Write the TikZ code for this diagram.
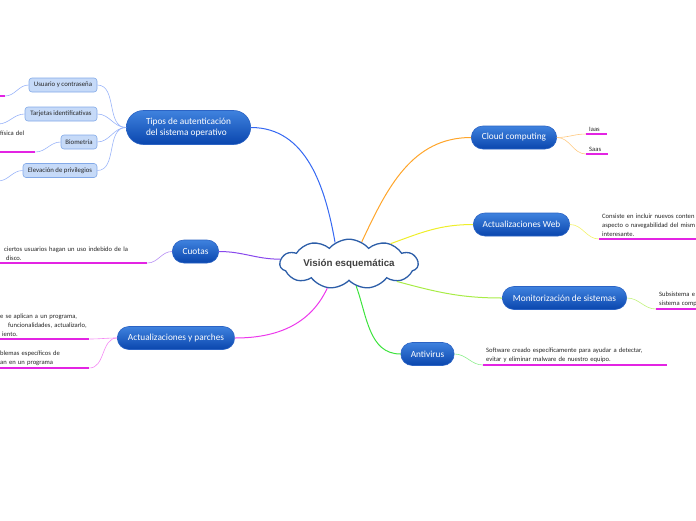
\documentclass[tikz,border=0pt]{standalone}
\usepackage{fontspec}
\setmainfont{Carlito}
\newfontfamily\cloudfont{Liberation Sans}
\usetikzlibrary{shapes,shapes.symbols,shapes.misc}
\definecolor{topic top}{HTML}{3F82DE}
\definecolor{topic bottom}{HTML}{0A46AE}
\definecolor{topic edge}{HTML}{2B63C4}
\definecolor{sub fill}{HTML}{C6DAF8}
\definecolor{sub edge}{HTML}{82A9E8}
\definecolor{cloud edge}{HTML}{2D5EA8}
\definecolor{leaf line}{HTML}{E324E3}
\definecolor{br blue}{HTML}{3568F2}
\definecolor{br orange}{HTML}{FFA52A}
\definecolor{br yellow}{HTML}{EEEE2A}
\definecolor{br purple}{HTML}{8848EC}
\definecolor{br magenta}{HTML}{EC38EC}
\definecolor{br green}{HTML}{3EE33E}
\definecolor{br lime}{HTML}{A8EC46}
\tikzset{topic/.style={rounded rectangle, top color=topic top, bottom color=topic bottom,
        draw=topic edge, line width=0.6pt, text=white, minimum height=23pt,
        font=\fontsize{9.3}{10.8}\selectfont},
    sub/.style={rectangle, rounded corners=3pt, fill=sub fill, draw=sub edge, line width=0.6pt,
        minimum height=14pt, inner xsep=2pt, inner ysep=0pt, text=black!85,
        font=\fontsize{6.8}{7.5}\selectfont},
    leaf/.style={anchor=south west, align=left, inner xsep=3pt, inner ysep=2.5pt,
        text=black!85, font=\fontsize{6.6}{9}\selectfont},
    under/.style={draw=leaf line, line width=1.3pt},
    branch/.style={line width=1pt},
    twig/.style={line width=0.6pt}}

\begin{document}
\begin{tikzpicture}[x=1pt, y=1pt]
    \useasboundingbox (0,0) rectangle (696,-520);
    \clip (0,0) rectangle (696,-520);
    % centre and main topics
    \node[cloud, cloud puffs=11, cloud puff arc=100, aspect=3.8, inner sep=0pt,
          minimum width=138pt, minimum height=36pt, fill=white, draw=cloud edge,
          line width=1.3pt, text=black!75, font=\cloudfont\bfseries\fontsize{9.8}{11}\selectfont]
          (vis) at (349,-264) {Visión esquemática};
    \node[topic, minimum width=131pt, minimum height=34pt, align=left] (tipos) at (188.5,-127.5)
          {Tipos de autenticación\\del sistema operativo};
    \node[topic, minimum width=53pt] (cuotas) at (195.5,-251.5) {Cuotas};
    \node[topic, minimum width=124pt] (parches) at (176,-338) {Actualizaciones y parches};
    \node[topic, minimum width=92pt] (cloud) at (514,-137.5) {Cloud computing};
    \node[topic, minimum width=103pt] (web) at (521.5,-224.5) {Actualizaciones Web};
    \node[topic, minimum width=131pt] (monitor) at (564.5,-298) {Monitorización de sistemas};
    \node[topic, minimum width=60pt] (antivirus) at (427.5,-354) {Antivirus};
    % subtopics of tipos
    \node[sub, minimum width=68pt] (usuario) at (63,-85) {Usuario y contraseña};
    \node[sub, minimum width=72pt] (tarjetas) at (61,-114) {Tarjetas identificativas};
    \node[sub, minimum width=36pt] (biometria) at (79,-142) {Biometría};
    \node[sub, minimum width=74pt] (elevacion) at (60,-170.5) {Elevación de privilegios};
    % leaves
    \coordinate (ua) at (-3,-96);
    \coordinate (ub) at (5,-96);
    \coordinate (tb) at (-2,-124);
    \coordinate (eb) at (-2,-181);
    \node[leaf, text width=32pt] (biotext) at (-3,-152) {física del\\[5pt]\mbox{}};
    \node[leaf, text width=144pt] (cuotatext) at (-3,-263)
          {\hspace{4pt}ciertos usuarios hagan un uso indebido de la\\\hspace{6pt}disco.};
    \node[leaf, text width=86pt] (ptext) at (-3,-339)
          {\mbox{e se aplican a un programa,}\\\mbox{\hspace{8pt}funcionalidades, actualizarlo,}\\\mbox{\hspace{2pt}iento.}};
    \node[leaf, text width=86pt] (pbtext) at (-3,-368)
          {blemas específicos de\\an en un programa};
    \node[leaf, text width=15pt] (iaas) at (586,-134) {Iaas};
    \node[leaf, text width=16pt] (saas) at (586,-154) {Saas};
    \node[leaf, text width=100pt] (webtext) at (599,-239)
          {Consiste en incluir nuevos conten\\aspecto o navegabilidad del mism\\interesante.};
    \node[leaf, text width=40pt] (montext) at (656,-309)
          {Subsistema e\\sistema comp};
    \node[leaf, text width=178pt] (antitext) at (483,-365)
          {Software creado específicamente para ayudar a detectar,\\evitar y eliminar malware de nuestro equipo.};
    % branches
    \draw[branch, br blue] (vis.123) to[out=100, in=0] (tipos.east);
    \draw[branch, br purple] (vis.176) to[out=180, in=0] (cuotas.east);
    \draw[branch, br magenta] (vis.228) to[out=245, in=0] (parches.east);
    \draw[branch, br orange] (vis.60) to[out=65, in=180] (cloud.west);
    \draw[branch, br yellow] (vis.26) to[out=20, in=180] (web.west);
    \draw[branch, br lime] (vis.340) to[out=-15, in=180] (monitor.west);
    \draw[branch, br green] (vis.288) to[out=290, in=180] (antivirus.west);
    % twigs
    \foreach \s in {usuario, tarjetas, biometria, elevacion}
        \draw[twig, br blue!50] (tipos.west) to[out=180, in=0] (\s.east);
    \draw[twig, br blue!50] (usuario.west) to[out=180, in=0] (ub);
    \draw[twig, br blue!50] (tarjetas.west) to[out=180, in=0] (tb);
    \draw[twig, br blue!50] (biometria.west) to[out=180, in=0] (biotext.south east);
    \draw[twig, br blue!50] (elevacion.west) to[out=180, in=0] (eb);
    \draw[twig, br purple!60] (cuotas.west) to[out=180, in=0] (cuotatext.south east);
    \draw[twig, br magenta!60] (parches.west) to[out=180, in=0] (ptext.south east);
    \draw[twig, br magenta!60] (parches.west) to[out=180, in=0] (pbtext.south east);
    \draw[twig, br orange!60] (cloud.east) to[out=0, in=180] (iaas.south west);
    \draw[twig, br orange!60] (cloud.east) to[out=0, in=180] (saas.south west);
    \draw[twig, br yellow!70] (web.east) to[out=0, in=180] (webtext.south west);
    \draw[twig, br lime!70] (monitor.east) to[out=0, in=180] (montext.south west);
    \draw[twig, br green!60] (antivirus.east) to[out=0, in=180] (antitext.south west);
    % underlines
    \draw[under] (ua) -- (ub);
    \foreach \l in {biotext, cuotatext, ptext, pbtext, iaas, saas, webtext, montext, antitext}
        \draw[under] (\l.south west) -- (\l.south east);
\end{tikzpicture}
\end{document}
